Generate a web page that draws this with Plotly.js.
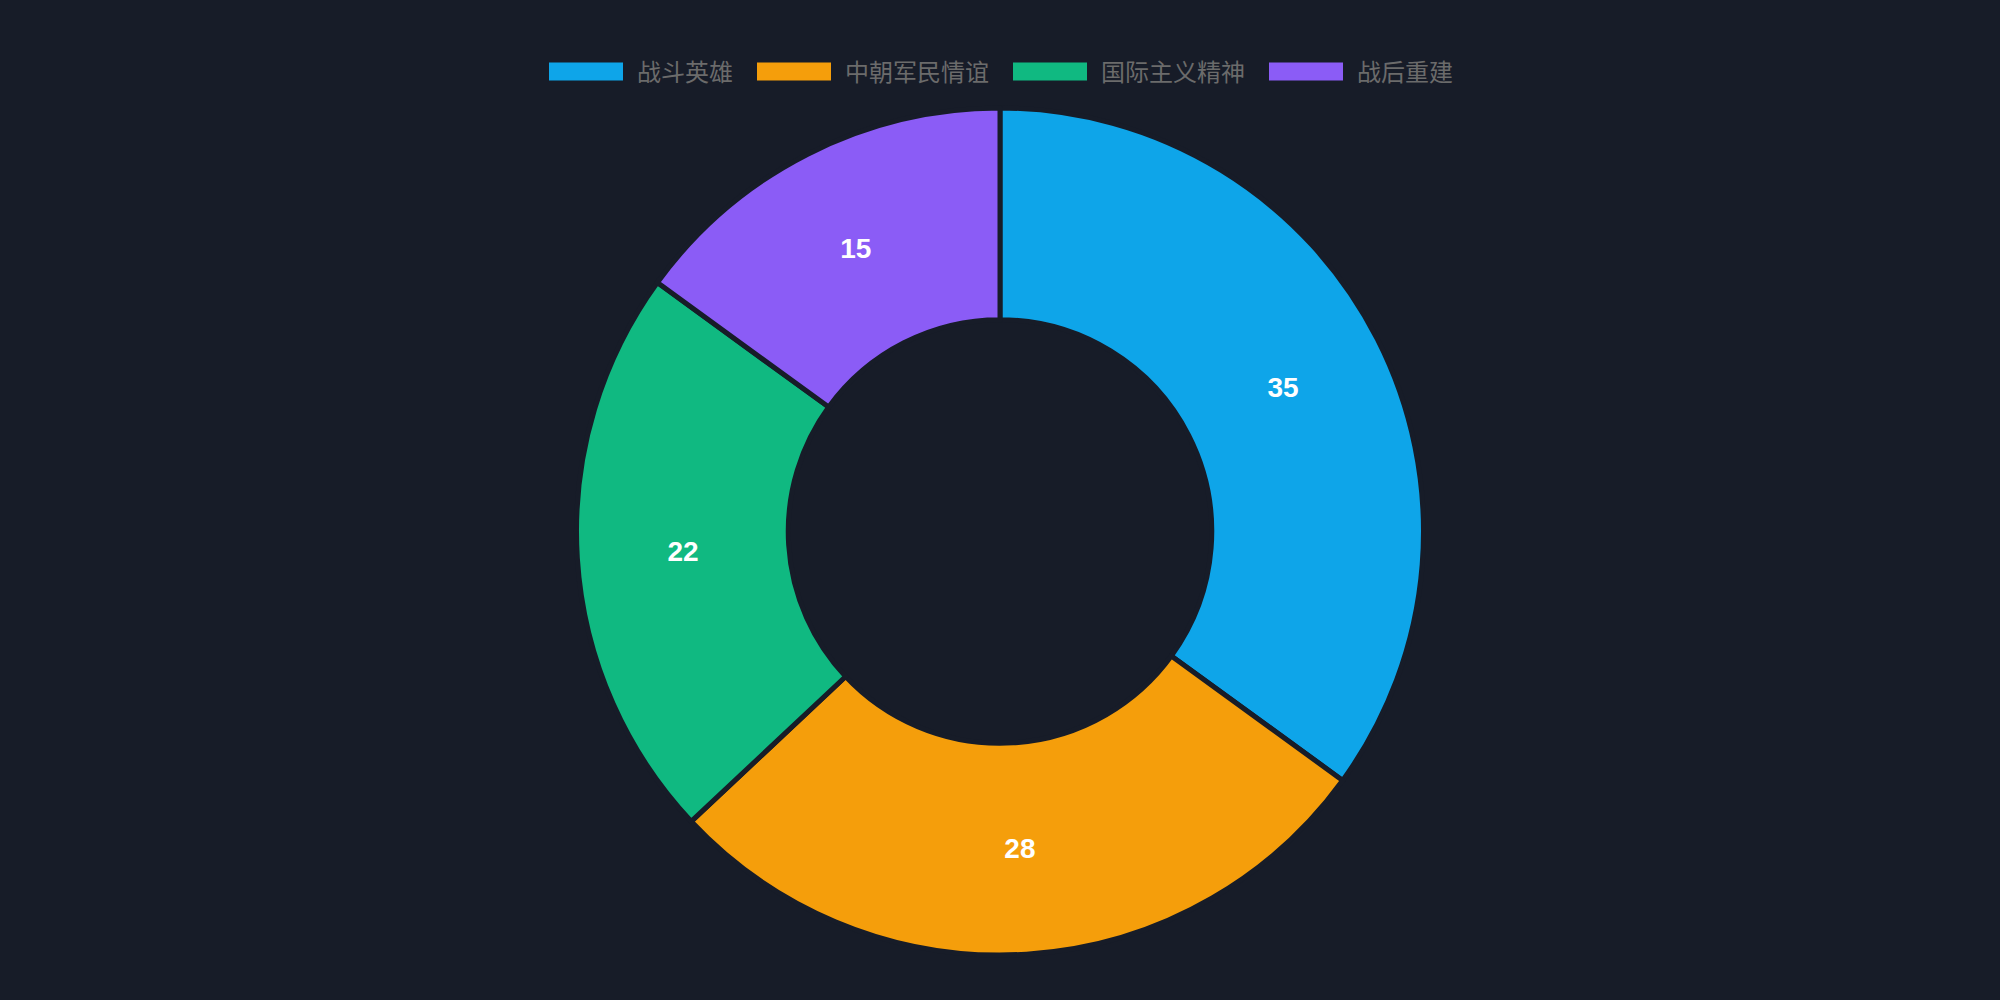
<!DOCTYPE html>
<html>
<head>
<meta charset="utf-8">
<script src="https://cdn.plot.ly/plotly-3.0.1.min.js"></script>
<style>
html,body{margin:0;padding:0;background:#171c28;}
#chart{width:2000px;height:1000px;}
</style>
</head>
<body>
<div id="chart"></div>
<script>
const categories = ["战斗英雄", "中朝军民情谊", "国际主义精神", "战后重建"];
const values = [35, 28, 22, 15];
const colors = ["#0ea5e9", "#f59e0b", "#10b981", "#8b5cf6"];
const bgColor = "#171c28";

const trace = {
  type: "pie",
  labels: categories,
  values: values,
  hole: 0.5,
  sort: false,
  direction: "clockwise",
  rotation: 0,
  marker: {colors: colors, line: {color: bgColor, width: 5}},
  textinfo: "value",
  textposition: "inside",
  insidetextorientation: "horizontal",
  textfont: {family: "Liberation Sans, Arial, sans-serif", size: 28, color: "#ffffff", weight: "bold"},
  hoverinfo: "label+value+percent",
  domain: {x: [0, 1], y: [0, 1]}
};

const layout = {
  width: 2000,
  height: 1000,
  paper_bgcolor: bgColor,
  plot_bgcolor: bgColor,
  margin: {l: 0, r: 0, t: 108, b: 45},
  showlegend: true,
  legend: {
    orientation: "h",
    x: 0.5, xanchor: "center",
    y: 1.0425, yanchor: "middle",
    font: {family: "Noto Sans CJK SC, sans-serif", size: 24, color: "#6b6b6b"},
    itemwidth: 80,
    traceorder: "normal",
    bgcolor: "rgba(0,0,0,0)"
  }
};

function fixLegend() {
  document.querySelectorAll("#chart .legend [clip-path]").forEach(el => el.removeAttribute("clip-path"));
  const items = document.querySelectorAll("#chart .legend g.traces");
  items.forEach((g, i) => {
    if (!g.dataset.orig) g.dataset.orig = g.getAttribute("transform") || "translate(0,0)";
    const m = /translate\(\s*([-\d.]+)[ ,]+([-\d.]+)\s*\)/.exec(g.dataset.orig);
    if (m) {
      const dx = -23 + 17 * i;
      g.setAttribute("transform", "translate(" + (parseFloat(m[1]) + dx) + "," + m[2] + ")");
    }
  });
  document.querySelectorAll("#chart .legend path.legendpie").forEach(p => {
    p.setAttribute("d", "M31,9H-43V-9H31Z");
    p.style.strokeWidth = "0px";
  });
}

Plotly.newPlot("chart", [trace], layout, {displayModeBar: false, staticPlot: true}).then(gd => {
  fixLegend();
  gd.on("plotly_afterplot", fixLegend);
});
</script>
</body>
</html>
